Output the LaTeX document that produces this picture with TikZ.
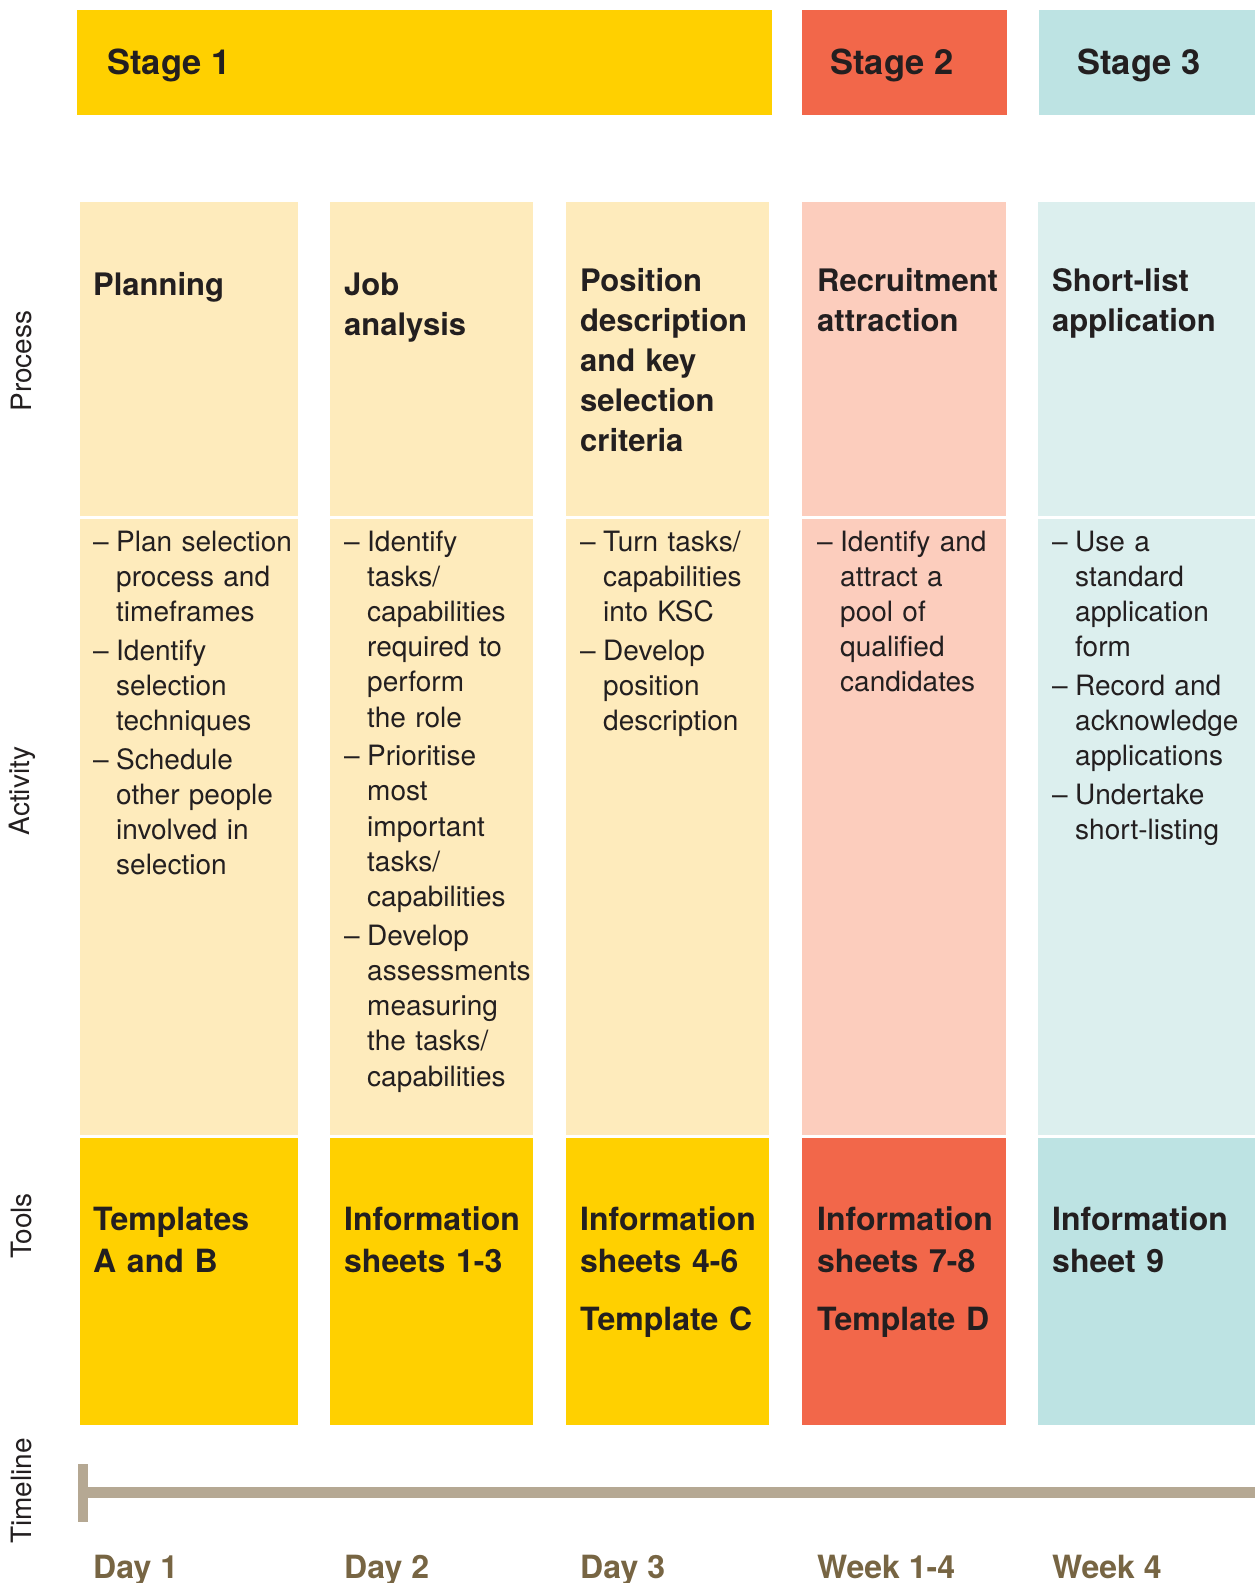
\documentclass[tikz,border=0pt]{standalone}
\usepackage{fontspec}
\setmainfont{TeX Gyre Heros}
\definecolor{ink}{HTML}{231F20}
\definecolor{sunA}{HTML}{FFD000}
\definecolor{sunB}{HTML}{FEEBBC}
\definecolor{corA}{HTML}{F2674A}
\definecolor{corB}{HTML}{FCCDBD}
\definecolor{aquA}{HTML}{BDE3E3}
\definecolor{aquB}{HTML}{DCEFEE}
\definecolor{tline}{HTML}{B5A893}
\definecolor{dayc}{HTML}{776543}
\newcommand\actdash{\makebox[23pt][l]{–}}
\newcommand\actind{\hspace*{23pt}}
\begin{document}
\begin{tikzpicture}[x=1pt,y=-1pt,
  stagetext/.style={anchor=base west, inner sep=0pt, text=ink,
    font=\fontsize{34.5}{40}\selectfont\bfseries},
  titletext/.style={anchor=base west, inner sep=0pt, text=ink, text width=240pt, align=left,
    font=\fontsize{31}{40}\selectfont\bfseries},
  acttext/.style={anchor=base west, inner sep=0pt, text=ink, text width=240pt, align=left,
    font=\fontsize{28}{35.2}\selectfont},
  tooltext/.style={anchor=base west, inner sep=0pt, text=ink, text width=240pt, align=left,
    font=\fontsize{32}{42.4}\selectfont\bfseries},
  daytext/.style={anchor=base west, inner sep=0pt, text=dayc,
    font=\fontsize{32}{38}\selectfont\bfseries},
  sidetext/.style={rotate=90, inner sep=0pt, text=ink,
    font=\fontsize{28}{32}\selectfont}]
\useasboundingbox (0,0) rectangle (1255,1583);

% stage banners
\fill[sunA] (77,10) rectangle (772,115);
\fill[corA] (802,10) rectangle (1007,115);
\fill[aquA] (1039,10) rectangle (1255,115);
\node[stagetext] (s1) at (107,74) {Stage 1};
\node[stagetext] (s2) at (830,74) {Stage 2};
\node[stagetext] (s3) at (1077,74) {Stage 3};

% column panels: process, activity, tools
\foreach \xa/\xb/\pale/\deep in {80/298/sunB/sunA, 330/533/sunB/sunA, 566/769/sunB/sunA,
                                 802/1006/corB/corA, 1038/1255/aquB/aquA}{
  \fill[\pale] (\xa,202) rectangle (\xb,516);
  \fill[\pale] (\xa,519) rectangle (\xb,1135);
  \fill[\deep] (\xa,1138) rectangle (\xb,1425);
}

% process titles
\node[titletext] (p1) at (93,295) {Planning};
\node[titletext] (p2) at (344,295) {Job\\analysis};
\node[titletext] (p3) at (580,291) {Position\\description\\and key\\selection\\criteria};
\node[titletext] (p4) at (817,291) {Recruitment\\attraction};
\node[titletext] (p5) at (1052,291) {Short-list\\application};

% activities
\node[acttext] (a1) at (93,551) {\actdash Plan selection\\ \actind process and\\ \actind timeframes\\[3.5pt]
  \actdash Identify\\ \actind selection\\ \actind techniques\\[3.5pt]
  \actdash Schedule\\ \actind other people\\ \actind involved in\\ \actind selection};
\node[acttext] (a2) at (344,551) {\actdash Identify\\ \actind tasks/\\ \actind capabilities\\ \actind required to\\ \actind perform\\ \actind the role\\[3.5pt]
  \actdash Prioritise\\ \actind most\\ \actind important\\ \actind tasks/\\ \actind capabilities\\[3.5pt]
  \actdash Develop\\ \actind assessments\\ \actind measuring\\ \actind the tasks/\\ \actind capabilities};
\node[acttext] (a3) at (580,551) {\actdash Turn tasks/\\ \actind capabilities\\ \actind into KSC\\[3.5pt]
  \actdash Develop\\ \actind position\\ \actind description};
\node[acttext] (a4) at (817,551) {\actdash Identify and\\ \actind attract a\\ \actind pool of\\ \actind qualified\\ \actind candidates};
\node[acttext] (a5) at (1052,551) {\actdash Use a\\ \actind standard\\ \actind application\\ \actind form\\[3.5pt]
  \actdash Record and\\ \actind acknowledge\\ \actind applications\\[3.5pt]
  \actdash Undertake\\ \actind short-listing};

% tools
\node[tooltext] (t1) at (93,1230) {Templates\\A and B};
\node[tooltext] (t2) at (344,1230) {Information\\sheets 1-3};
\node[tooltext] (t3) at (580,1230) {Information\\sheets 4-6\\[16pt]Template C};
\node[tooltext] (t4) at (817,1230) {Information\\sheets 7-8\\[16pt]Template D};
\node[tooltext] (t5) at (1052,1230) {Information\\sheet 9};

% timeline
\fill[tline] (78,1487) rectangle (1255,1498);
\fill[tline] (78,1464) rectangle (88,1522);
\node[daytext] (d1) at (93,1578) {Day 1};
\node[daytext] (d2) at (344,1578) {Day 2};
\node[daytext] (d3) at (580,1578) {Day 3};
\node[daytext] (d4) at (817,1578) {Week 1-4};
\node[daytext] (d5) at (1052,1578) {Week 4};

% row labels
\node[sidetext] (lp) at (22,361) {Process};
\node[sidetext] (la) at (22,791) {Activity};
\node[sidetext] (lt) at (22,1226) {Tools};
\node[sidetext] (ll) at (22,1491) {Timeline};
\end{tikzpicture}
\end{document}
